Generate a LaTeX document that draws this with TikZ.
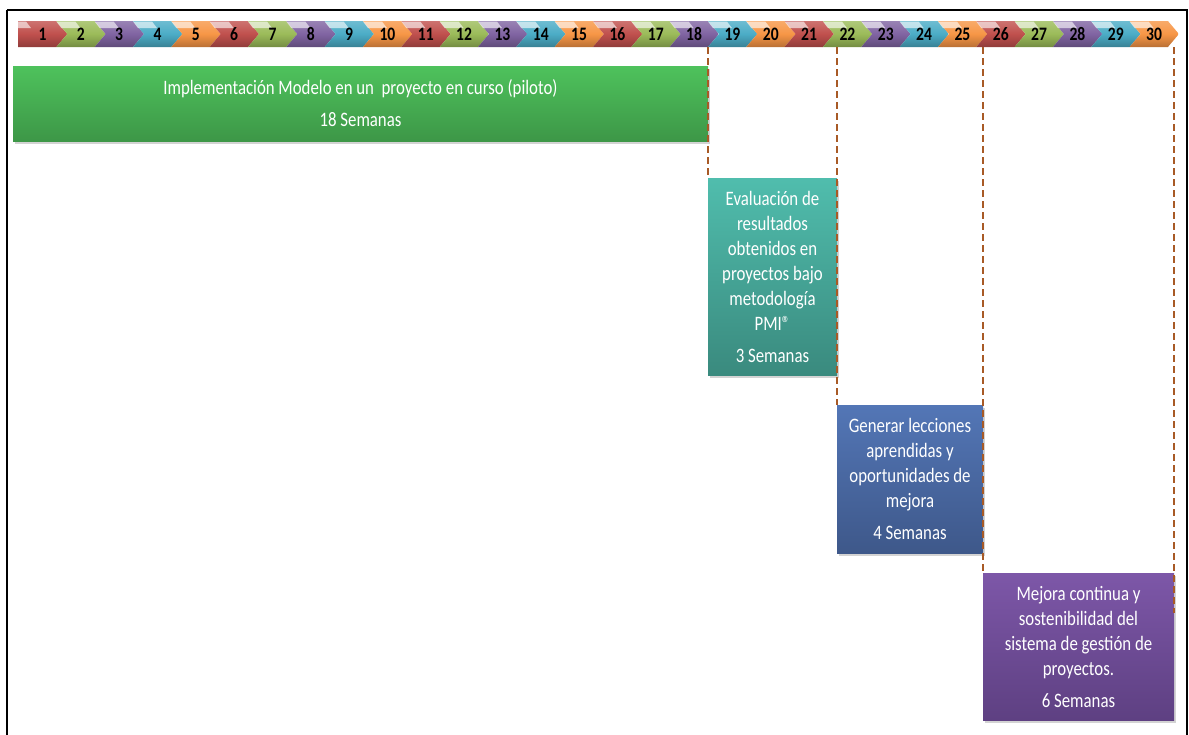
\documentclass[tikz,border=0pt]{standalone}
\usepackage{fontspec}
\setmainfont{Carlito}
\newfontfamily\condfont[FakeStretch=0.82]{Carlito}
\usetikzlibrary{shadows,calc}
\definecolor{cR}{HTML}{C0504D}
\definecolor{cG}{HTML}{9BBB59}
\definecolor{cP}{HTML}{8064A2}
\definecolor{cC}{HTML}{4BACC6}
\definecolor{cO}{HTML}{F79646}
\definecolor{gTop}{HTML}{4EC25C}
\definecolor{gBot}{HTML}{3D9747}
\definecolor{tTop}{HTML}{50BDAD}
\definecolor{tBot}{HTML}{3A8A7E}
\definecolor{bTop}{HTML}{5376B6}
\definecolor{bBot}{HTML}{3E588A}
\definecolor{pTop}{HTML}{7D57A8}
\definecolor{pBot}{HTML}{5E4082}
\definecolor{dashc}{HTML}{A85A26}
\begin{document}
\begin{tikzpicture}[x=1pt,y=-1pt,
  wk/.style={font=\condfont\bfseries\fontsize{19}{19}\selectfont, text=black, inner sep=0pt},
  box/.style={rectangle, inner sep=0pt, align=center, text=white,
    font=\condfont\fontsize{20.5}{25}\selectfont,
    drop shadow={opacity=0.35, shadow xshift=1.5pt, shadow yshift=-3pt}},
  dashline/.style={draw=dashc, line width=1.5pt, dash pattern=on 7pt off 4pt}]
\useasboundingbox (0,0) rectangle (1189,734);
% week chevrons
\foreach \i/\c in {1/cR,2/cG,3/cP,4/cC,5/cO,6/cR,7/cG,8/cP,9/cC,10/cO,
                   11/cR,12/cG,13/cP,14/cC,15/cO,16/cR,17/cG,18/cP,19/cC,20/cO,
                   21/cR,22/cG,23/cP,24/cC,25/cO,26/cR,27/cG,28/cP,29/cC,30/cO}{
  \pgfmathsetmacro\xa{18+(\i-1)*38.33}
  \pgfmathsetmacro\xb{\xa+38.33}
  \pgfmathsetmacro\nn{ifthenelse(\i==1,0,11)}
  \path[top color=\c!80!white, bottom color=\c!75!black, middle color=\c]
    (\xa,21) -- (\xb,21) -- (\xb+11,34) -- (\xb,47) -- (\xa,47) -- (\xa+\nn,34) -- cycle;
  \path[fill=white, fill opacity=0.6]
    (\xa,21.5) -- (\xa+\nn+8,21.5) -- (\xa+\nn+13,28) -- (\xa+\nn*0.45,28) -- cycle;
  \node[wk] (w\i) at (\xa+24.5,34) {\i};
}
\coordinate (bar) at (0,47);
% boxes
\node[box, top color=gTop, bottom color=gBot, minimum width=695pt, minimum height=75pt]
  (impl) at (360.5,103.5) {Implementación Modelo en un \ proyecto en curso (piloto)\\[7pt]18 Semanas};
\node[box, top color=tTop, bottom color=tBot, minimum width=129pt, minimum height=197pt]
  (eval) at (772.5,276.5) {Evaluación de\\resultados\\obtenidos en\\proyectos bajo\\metodología\\PMI®\\[7pt]3 Semanas};
\node[box, top color=bTop, bottom color=bBot, minimum width=146pt, minimum height=148pt]
  (lecc) at (910,479) {Generar lecciones\\aprendidas y\\oportunidades de\\mejora\\[7pt]4 Semanas};
\node[box, top color=pTop, bottom color=pBot, minimum width=191pt, minimum height=147pt]
  (mejora) at (1078.5,646.5) {Mejora continua y\\sostenibilidad del\\sistema de gestión de\\proyectos.\\[7pt]6 Semanas};
% dashed connectors
\draw[dashline] (eval.north west |- bar) -- (eval.north west);
\draw[dashline] (lecc.north west |- bar) -- (lecc.north west);
\draw[dashline] (mejora.north west |- bar) -- (mejora.north west);
\draw[dashline] (mejora.north east |- bar) -- ([yshift=-40pt]mejora.north east);
% frame
\draw[line width=2.5pt] (7,10) -- (1187,10) -- (1187,760) (7,760) -- (7,10);
\end{tikzpicture}
\end{document}
